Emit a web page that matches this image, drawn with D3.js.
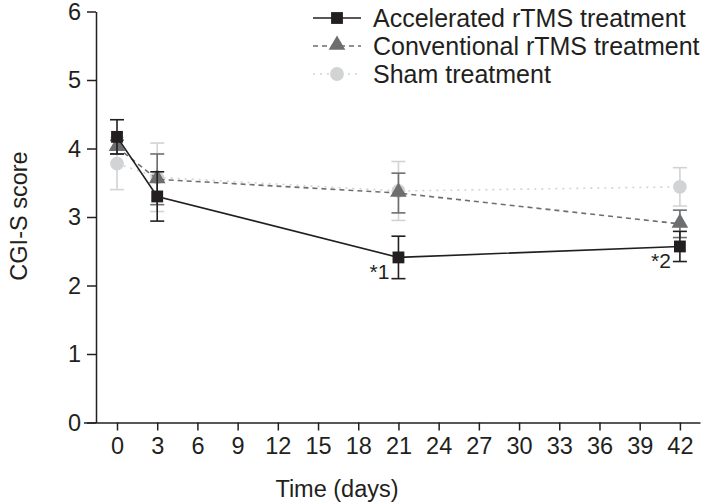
<!DOCTYPE html>
<html>
<head>
<meta charset="utf-8">
<script src="https://cdn.jsdelivr.net/npm/d3@7"></script>
<style>
  body { margin: 0; background: #fff; }
  text { font-family: "Liberation Sans", Arial, sans-serif; fill: #231f20; }
</style>
</head>
<body>
<div id="chart"></div>
<script>
// data
let days = [0, 3, 21, 42];
let accelMean = [4.17, 3.30, 2.41, 2.57];
let accelErr = [0.25, 0.36, 0.31, 0.22];
let convMean = [4.02, 3.55, 3.35, 2.90];
let convErr = [0.10, 0.37, 0.29, 0.20];
let shamMean = [3.78, 3.58, 3.38, 3.44];
let shamErr = [0.38, 0.50, 0.43, 0.28];
let xTicks = [0, 3, 6, 9, 12, 15, 18, 21, 24, 27, 30, 33, 36, 39, 42];
let yTicks = [0, 1, 2, 3, 4, 5, 6];
let seriesNames = ["Accelerated rTMS treatment", "Conventional rTMS treatment", "Sham treatment"];
let notes = [{day: 21, label: "*1"}, {day: 42, label: "*2"}];

let w = 703, h = 503;
let fs = 23.5;

let svg = d3.select("#chart")
  .append("svg")
  .attr("width", w)
  .attr("height", h);

// scales
let x = d3.scaleLinear().domain([-2.5, 43.5]).range([83.5, 700]);
let y = d3.scaleLinear().domain([0, 6]).range([422.5, 11.5]);

// x axis
let xAxis = svg.append("g")
  .attr("transform", "translate(0," + y(0) + ")")
  .call(d3.axisBottom(x).tickValues(xTicks).tickSize(8).tickPadding(7).tickSizeOuter(0));
xAxis.select(".domain").attr("stroke", "#231f20").attr("stroke-width", 1.5);
xAxis.selectAll(".tick line").attr("stroke", "#231f20").attr("stroke-width", 1.5);
xAxis.selectAll("text").style("font-size", fs + "px").attr("fill", "#231f20");

// y axis
let yAxis = svg.append("g")
  .attr("transform", "translate(96,0)")
  .call(d3.axisLeft(y).tickValues(yTicks).tickFormat(d3.format("d")).tickSize(9).tickPadding(6).tickSizeOuter(0));
yAxis.select(".domain").attr("stroke", "#231f20").attr("stroke-width", 1.5);
yAxis.selectAll(".tick line").attr("stroke", "#231f20").attr("stroke-width", 1.5);
yAxis.selectAll("text").style("font-size", fs + "px").attr("fill", "#231f20");

// axis titles
svg.append("text")
  .attr("x", 337)
  .attr("y", 497)
  .attr("text-anchor", "middle")
  .style("font-size", fs + "px")
  .text("Time (days)");
svg.append("text")
  .attr("transform", "translate(27,216)rotate(-90)")
  .attr("text-anchor", "middle")
  .style("font-size", fs + "px")
  .text("CGI-S score");

let series = [
  {name: seriesNames[2], mean: shamMean, err: shamErr, color: "#d1d3d4", dash: "2,5", shape: "circle"},
  {name: seriesNames[1], mean: convMean, err: convErr, color: "#6d6e70", dash: "5,4", shape: "triangle"},
  {name: seriesNames[0], mean: accelMean, err: accelErr, color: "#231f20", dash: null, shape: "square"}
];

let symbols = {circle: d3.symbolCircle, triangle: d3.symbolTriangle, square: d3.symbolSquare};
let sizes = {circle: 150, triangle: 120, square: 140};

function drawMarker(g, s, cx, cy) {
  g.append("path")
    .attr("d", d3.symbol().type(symbols[s.shape]).size(sizes[s.shape]))
    .attr("transform", "translate(" + cx + "," + (s.shape === "triangle" ? cy - 1 : cy) + ")")
    .attr("fill", s.color);
}

let line = d3.line().x(d => x(d.day)).y(d => y(d.v));

series.forEach(s => {
  let pts = days.map((d, i) => ({day: d, v: s.mean[i], e: s.err[i]}));
  let g = svg.append("g");

  // error bars
  pts.forEach(p => {
    g.append("line")
      .attr("x1", x(p.day)).attr("x2", x(p.day))
      .attr("y1", y(p.v - p.e)).attr("y2", y(p.v + p.e))
      .attr("stroke", s.color).attr("stroke-width", 1.6);
    [p.v - p.e, p.v + p.e].forEach(v => {
      g.append("line")
        .attr("x1", x(p.day) - 7).attr("x2", x(p.day) + 7)
        .attr("y1", y(v)).attr("y2", y(v))
        .attr("stroke", s.color).attr("stroke-width", 1.6);
    });
  });

  g.append("path")
    .datum(pts)
    .attr("d", line)
    .attr("fill", "none")
    .attr("stroke", s.color)
    .attr("stroke-width", 1.6)
    .attr("stroke-dasharray", s.dash);

  pts.forEach(p => drawMarker(g, s, x(p.day), y(p.v)));
});

// significance notes
notes.forEach(n => {
  let i = days.indexOf(n.day);
  svg.append("text")
    .attr("x", x(n.day) - 9)
    .attr("y", y(accelMean[i]) + 22)
    .attr("text-anchor", "end")
    .style("font-size", "21px")
    .text(n.label);
});

// legend
let legend = svg.append("g");
series.slice().reverse().forEach((s, i) => {
  let ly = 18 + i * 28;
  legend.append("line")
    .attr("x1", 313).attr("x2", 361)
    .attr("y1", ly).attr("y2", ly)
    .attr("stroke", s.color)
    .attr("stroke-width", 1.6)
    .attr("stroke-dasharray", s.dash);
  drawMarker(legend, s, 337, ly);
  legend.append("text")
    .attr("x", 373)
    .attr("y", ly + 9)
    .style("font-size", "25px")
    .text(s.name);
});
</script>
</body>
</html>
